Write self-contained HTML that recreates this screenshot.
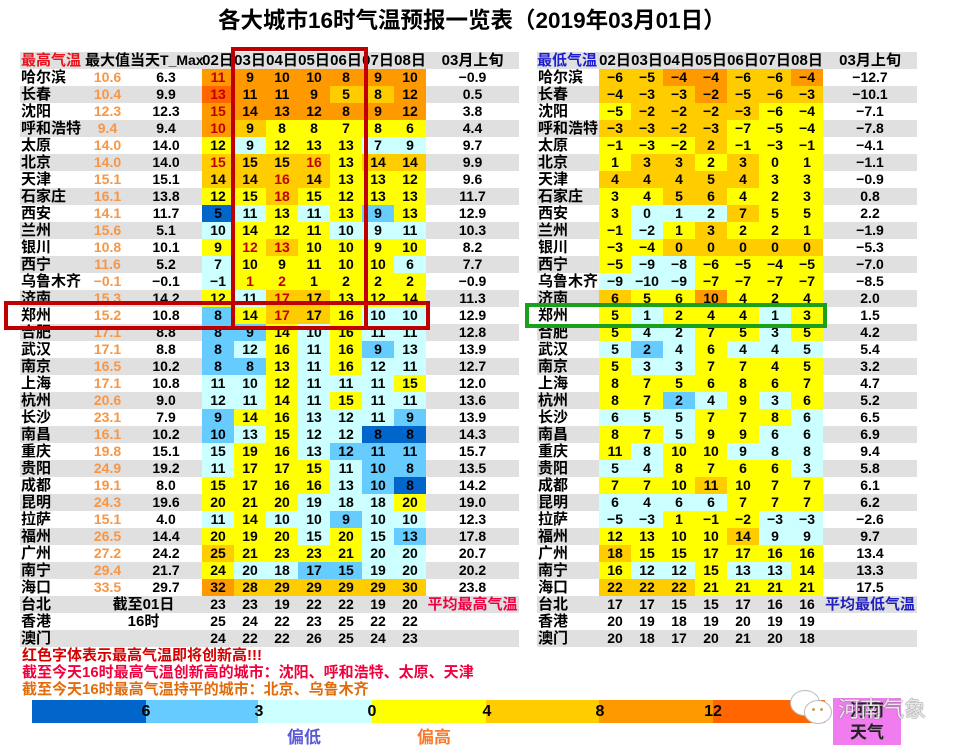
<!DOCTYPE html>
<html><head><meta charset="utf-8">
<style>
body{margin:0;width:964px;height:750px;background:#fff;position:relative;overflow:hidden;font-family:"Liberation Sans","Noto Sans CJK SC",sans-serif;font-weight:bold;color:#000}
table{position:absolute;border-collapse:collapse;table-layout:fixed;top:52px}
td{padding:0;height:17px;line-height:17px;text-align:center;white-space:nowrap;overflow:visible;font-size:14px;color:#000}
tr{height:17px}
tr:nth-child(odd){background:#e0e0e0}
td.n{text-align:left;font-size:15px;padding-left:1px}
td.h{font-size:15px}
td.m{color:#f79646}
.o{background:#ff9900}.d{background:#ff6600}.g{background:#ffcc00}.y{background:#ffff00}.c{background:#ccffff}.l{background:#66ccff}.b{background:#0066cc}
.r{color:#c00000}
.box{position:absolute;box-sizing:border-box}
.lab{position:absolute;top:702px;font-size:16px;line-height:20px;width:30px;margin-left:-15px;text-align:center;font-family:"Liberation Sans",sans-serif}
</style></head><body>
<div style="position:absolute;left:218px;top:7px;line-height:28px;font-size:22.5px;white-space:nowrap">各大城市16时气温预报一览表（2019年03月01日）</div>

<table style="left:20px;width:499px">
<colgroup><col style="width:65px"><col style="width:45px"><col style="width:72px"><col style="width:32px"><col style="width:32px"><col style="width:32px"><col style="width:32px"><col style="width:32px"><col style="width:32px"><col style="width:32px"><col style="width:93px"></colgroup>
<tr><td class="n" style="color:#e8141e">最高气温</td><td class="n" colspan="2" style="padding-left:0">最大值当天<span style="font-size:14px">T_Max</span></td><td class="h">02日</td><td class="h">03日</td><td class="h">04日</td><td class="h">05日</td><td class="h">06日</td><td class="h">07日</td><td class="h">08日</td><td class="h">03月上旬</td></tr>
<tr><td class="n">哈尔滨</td><td class="m">10.6</td><td>6.3</td><td class="o r">11</td><td class="o">9</td><td class="o">10</td><td class="o">10</td><td class="o">8</td><td class="o">9</td><td class="o">10</td><td>−0.9</td></tr>
<tr><td class="n">长春</td><td class="m">10.4</td><td>9.9</td><td class="d r">13</td><td class="o">11</td><td class="o">11</td><td class="o">9</td><td class="g">5</td><td class="g">8</td><td class="o">12</td><td>0.5</td></tr>
<tr><td class="n">沈阳</td><td class="m">12.3</td><td>12.3</td><td class="o r">15</td><td class="o">14</td><td class="o">13</td><td class="o">12</td><td class="o">8</td><td class="o">9</td><td class="o">12</td><td>3.8</td></tr>
<tr><td class="n">呼和浩特</td><td class="m">9.4</td><td>9.4</td><td class="o r">10</td><td class="g">9</td><td class="y">8</td><td class="y">8</td><td class="y">7</td><td class="y">8</td><td class="y">6</td><td>4.4</td></tr>
<tr><td class="n">太原</td><td class="m">14.0</td><td>14.0</td><td class="y">12</td><td class="c">9</td><td class="y">12</td><td class="y">13</td><td class="y">13</td><td class="c">7</td><td class="c">9</td><td>9.7</td></tr>
<tr><td class="n">北京</td><td class="m">14.0</td><td>14.0</td><td class="g r">15</td><td class="g">15</td><td class="g">15</td><td class="g r">16</td><td class="y">13</td><td class="g">14</td><td class="g">14</td><td>9.9</td></tr>
<tr><td class="n">天津</td><td class="m">15.1</td><td>15.1</td><td class="g">14</td><td class="g">14</td><td class="g r">16</td><td class="g">14</td><td class="y">13</td><td class="y">13</td><td class="y">12</td><td>9.6</td></tr>
<tr><td class="n">石家庄</td><td class="m">16.1</td><td>13.8</td><td class="y">12</td><td class="y">15</td><td class="g r">18</td><td class="y">15</td><td class="y">12</td><td class="y">13</td><td class="y">13</td><td>11.7</td></tr>
<tr><td class="n">西安</td><td class="m">14.1</td><td>11.7</td><td class="b">5</td><td class="c">11</td><td class="y">13</td><td class="c">11</td><td class="y">13</td><td class="l">9</td><td class="y">13</td><td>12.9</td></tr>
<tr><td class="n">兰州</td><td class="m">15.6</td><td>5.1</td><td class="c">10</td><td class="y">14</td><td class="y">12</td><td class="y">11</td><td class="c">10</td><td class="c">9</td><td class="c">11</td><td>10.3</td></tr>
<tr><td class="n">银川</td><td class="m">10.8</td><td>10.1</td><td class="y">9</td><td class="y r">12</td><td class="g r">13</td><td class="y">10</td><td class="y">10</td><td class="y">9</td><td class="y">10</td><td>8.2</td></tr>
<tr><td class="n">西宁</td><td class="m">11.6</td><td>5.2</td><td class="c">7</td><td class="y">10</td><td class="y">9</td><td class="y">11</td><td class="y">10</td><td class="y">10</td><td class="c">6</td><td>7.7</td></tr>
<tr><td class="n">乌鲁木齐</td><td class="m">−0.1</td><td>−0.1</td><td class="c">−1</td><td class="y r">1</td><td class="y r">2</td><td class="y">1</td><td class="y">2</td><td class="y">2</td><td class="y">2</td><td>−0.9</td></tr>
<tr><td class="n">济南</td><td class="m">15.3</td><td>14.2</td><td class="y">12</td><td class="c">11</td><td class="g r">17</td><td class="g">17</td><td class="y">13</td><td class="y">12</td><td class="y">14</td><td>11.3</td></tr>
<tr><td class="n">郑州</td><td class="m">15.2</td><td>10.8</td><td class="l">8</td><td class="y">14</td><td class="g r">17</td><td class="g">17</td><td class="y">16</td><td class="c">10</td><td class="c">10</td><td>12.9</td></tr>
<tr><td class="n">合肥</td><td class="m">17.1</td><td>8.8</td><td class="l">8</td><td class="l">9</td><td class="y">14</td><td class="c">10</td><td class="y">16</td><td class="c">11</td><td class="c">11</td><td>12.8</td></tr>
<tr><td class="n">武汉</td><td class="m">17.1</td><td>8.8</td><td class="l">8</td><td class="c">12</td><td class="y">16</td><td class="c">11</td><td class="y">16</td><td class="l">9</td><td class="c">13</td><td>13.9</td></tr>
<tr><td class="n">南京</td><td class="m">16.5</td><td>10.2</td><td class="l">8</td><td class="l">8</td><td class="y">13</td><td class="c">11</td><td class="y">16</td><td class="c">12</td><td class="c">11</td><td>12.7</td></tr>
<tr><td class="n">上海</td><td class="m">17.1</td><td>10.8</td><td class="c">11</td><td class="c">10</td><td class="y">12</td><td class="c">11</td><td class="c">11</td><td class="c">11</td><td class="y">15</td><td>12.0</td></tr>
<tr><td class="n">杭州</td><td class="m">20.6</td><td>9.0</td><td class="c">12</td><td class="c">11</td><td class="y">14</td><td class="c">11</td><td class="y">15</td><td class="c">11</td><td class="c">11</td><td>13.6</td></tr>
<tr><td class="n">长沙</td><td class="m">23.1</td><td>7.9</td><td class="l">9</td><td class="y">14</td><td class="y">16</td><td class="c">13</td><td class="c">12</td><td class="c">11</td><td class="l">9</td><td>13.9</td></tr>
<tr><td class="n">南昌</td><td class="m">16.1</td><td>10.2</td><td class="l">10</td><td class="c">13</td><td class="y">15</td><td class="c">12</td><td class="c">12</td><td class="b">8</td><td class="b">8</td><td>14.3</td></tr>
<tr><td class="n">重庆</td><td class="m">19.8</td><td>15.1</td><td class="c">15</td><td class="y">19</td><td class="y">16</td><td class="c">13</td><td class="l">12</td><td class="l">11</td><td class="l">11</td><td>15.7</td></tr>
<tr><td class="n">贵阳</td><td class="m">24.9</td><td>19.2</td><td class="c">11</td><td class="y">17</td><td class="y">17</td><td class="y">15</td><td class="c">11</td><td class="l">10</td><td class="l">8</td><td>13.5</td></tr>
<tr><td class="n">成都</td><td class="m">19.1</td><td>8.0</td><td class="y">15</td><td class="y">17</td><td class="y">16</td><td class="y">16</td><td class="c">13</td><td class="l">10</td><td class="b">8</td><td>14.2</td></tr>
<tr><td class="n">昆明</td><td class="m">24.3</td><td>19.6</td><td class="y">20</td><td class="y">21</td><td class="y">20</td><td class="c">19</td><td class="c">18</td><td class="c">18</td><td class="y">20</td><td>19.0</td></tr>
<tr><td class="n">拉萨</td><td class="m">15.1</td><td>4.0</td><td class="c">11</td><td class="y">14</td><td class="c">10</td><td class="c">10</td><td class="l">9</td><td class="c">10</td><td class="c">10</td><td>12.3</td></tr>
<tr><td class="n">福州</td><td class="m">26.5</td><td>14.4</td><td class="y">20</td><td class="y">19</td><td class="y">20</td><td class="c">15</td><td class="y">20</td><td class="c">15</td><td class="l">13</td><td>17.8</td></tr>
<tr><td class="n">广州</td><td class="m">27.2</td><td>24.2</td><td class="g">25</td><td class="y">21</td><td class="y">23</td><td class="y">23</td><td class="y">21</td><td class="c">20</td><td class="c">20</td><td>20.7</td></tr>
<tr><td class="n">南宁</td><td class="m">29.4</td><td>21.7</td><td class="y">24</td><td class="c">20</td><td class="c">18</td><td class="l">17</td><td class="l">15</td><td class="c">19</td><td class="c">20</td><td>20.2</td></tr>
<tr><td class="n">海口</td><td class="m">33.5</td><td>29.7</td><td class="o">32</td><td class="g">28</td><td class="g">29</td><td class="g">29</td><td class="g">29</td><td class="g">29</td><td class="g">30</td><td>23.8</td></tr>
<tr><td class="n">台北</td><td colspan="2" class="h">截至01日</td><td>23</td><td>23</td><td>19</td><td>22</td><td>22</td><td>19</td><td>20</td><td class="h" style="color:#f00040">平均最高气温</td></tr>
<tr><td class="n">香港</td><td colspan="2" class="h">16时</td><td>25</td><td>24</td><td>22</td><td>23</td><td>25</td><td>22</td><td>22</td><td></td></tr>
<tr><td class="n">澳门</td><td colspan="2"></td><td>24</td><td>22</td><td>22</td><td>26</td><td>25</td><td>24</td><td>23</td><td></td></tr>
</table>

<table style="left:537px;width:380px">
<colgroup><col style="width:62px"><col style="width:32px"><col style="width:32px"><col style="width:32px"><col style="width:32px"><col style="width:32px"><col style="width:32px"><col style="width:32px"><col style="width:94px"></colgroup>
<tr><td class="n" style="color:#1c1cd0;padding-left:0">最低气温</td><td class="h">02日</td><td class="h">03日</td><td class="h">04日</td><td class="h">05日</td><td class="h">06日</td><td class="h">07日</td><td class="h">08日</td><td class="h">03月上旬</td></tr>
<tr><td class="n">哈尔滨</td><td class="g">−6</td><td class="g">−5</td><td class="o">−4</td><td class="o">−4</td><td class="g">−6</td><td class="g">−6</td><td class="o">−4</td><td>−12.7</td></tr>
<tr><td class="n">长春</td><td class="g">−4</td><td class="g">−3</td><td class="g">−3</td><td class="o">−2</td><td class="g">−5</td><td class="g">−6</td><td class="g">−3</td><td>−10.1</td></tr>
<tr><td class="n">沈阳</td><td class="y">−5</td><td class="g">−2</td><td class="g">−2</td><td class="g">−2</td><td class="g">−3</td><td class="y">−6</td><td class="y">−4</td><td>−7.1</td></tr>
<tr><td class="n">呼和浩特</td><td class="g">−3</td><td class="g">−3</td><td class="g">−2</td><td class="g">−3</td><td class="y">−7</td><td class="y">−5</td><td class="y">−4</td><td>−7.8</td></tr>
<tr><td class="n">太原</td><td class="y">−1</td><td class="y">−3</td><td class="y">−2</td><td class="g">2</td><td class="y">−1</td><td class="y">−3</td><td class="y">−1</td><td>−4.1</td></tr>
<tr><td class="n">北京</td><td class="y">1</td><td class="g">3</td><td class="g">3</td><td class="y">2</td><td class="g">3</td><td class="y">0</td><td class="y">1</td><td>−1.1</td></tr>
<tr><td class="n">天津</td><td class="g">4</td><td class="g">4</td><td class="g">4</td><td class="g">5</td><td class="g">4</td><td class="y">3</td><td class="y">3</td><td>−0.9</td></tr>
<tr><td class="n">石家庄</td><td class="y">3</td><td class="y">4</td><td class="g">5</td><td class="g">6</td><td class="y">4</td><td class="y">2</td><td class="y">3</td><td>0.8</td></tr>
<tr><td class="n">西安</td><td class="y">3</td><td class="c">0</td><td class="c">1</td><td class="c">2</td><td class="g">7</td><td class="y">5</td><td class="y">5</td><td>2.2</td></tr>
<tr><td class="n">兰州</td><td class="y">−1</td><td class="c">−2</td><td class="y">1</td><td class="g">3</td><td class="y">2</td><td class="y">2</td><td class="y">1</td><td>−1.9</td></tr>
<tr><td class="n">银川</td><td class="y">−3</td><td class="y">−4</td><td class="g">0</td><td class="g">0</td><td class="g">0</td><td class="g">0</td><td class="g">0</td><td>−5.3</td></tr>
<tr><td class="n">西宁</td><td class="y">−5</td><td class="c">−9</td><td class="c">−8</td><td class="y">−6</td><td class="y">−5</td><td class="y">−4</td><td class="y">−5</td><td>−7.0</td></tr>
<tr><td class="n">乌鲁木齐</td><td class="c">−9</td><td class="c">−10</td><td class="c">−9</td><td class="y">−7</td><td class="y">−7</td><td class="y">−7</td><td class="y">−7</td><td>−8.5</td></tr>
<tr><td class="n">济南</td><td class="g">6</td><td class="y">5</td><td class="y">6</td><td class="o">10</td><td class="y">4</td><td class="y">2</td><td class="y">4</td><td>2.0</td></tr>
<tr><td class="n">郑州</td><td class="y">5</td><td class="c">1</td><td class="y">2</td><td class="y">4</td><td class="y">4</td><td class="c">1</td><td class="y">3</td><td>1.5</td></tr>
<tr><td class="n">合肥</td><td class="y">5</td><td class="c">4</td><td class="c">2</td><td class="y">7</td><td class="y">5</td><td class="c">3</td><td class="y">5</td><td>4.2</td></tr>
<tr><td class="n">武汉</td><td class="c">5</td><td class="l">2</td><td class="c">4</td><td class="y">6</td><td class="c">4</td><td class="c">4</td><td class="c">5</td><td>5.4</td></tr>
<tr><td class="n">南京</td><td class="y">5</td><td class="c">3</td><td class="c">3</td><td class="y">7</td><td class="y">7</td><td class="y">4</td><td class="y">5</td><td>3.2</td></tr>
<tr><td class="n">上海</td><td class="y">8</td><td class="y">7</td><td class="y">5</td><td class="y">6</td><td class="y">8</td><td class="y">6</td><td class="y">7</td><td>4.7</td></tr>
<tr><td class="n">杭州</td><td class="y">8</td><td class="y">7</td><td class="l">2</td><td class="c">4</td><td class="y">9</td><td class="c">3</td><td class="y">6</td><td>5.2</td></tr>
<tr><td class="n">长沙</td><td class="c">6</td><td class="c">5</td><td class="c">5</td><td class="y">7</td><td class="y">7</td><td class="y">8</td><td class="c">6</td><td>6.5</td></tr>
<tr><td class="n">南昌</td><td class="y">8</td><td class="y">7</td><td class="c">5</td><td class="y">9</td><td class="y">9</td><td class="c">6</td><td class="c">6</td><td>6.9</td></tr>
<tr><td class="n">重庆</td><td class="y">11</td><td class="c">8</td><td class="y">10</td><td class="y">10</td><td class="c">9</td><td class="c">8</td><td class="c">8</td><td>9.4</td></tr>
<tr><td class="n">贵阳</td><td class="c">5</td><td class="c">4</td><td class="y">8</td><td class="y">7</td><td class="y">6</td><td class="y">6</td><td class="c">3</td><td>5.8</td></tr>
<tr><td class="n">成都</td><td class="y">7</td><td class="y">7</td><td class="y">10</td><td class="g">11</td><td class="y">10</td><td class="y">7</td><td class="y">7</td><td>6.1</td></tr>
<tr><td class="n">昆明</td><td class="c">6</td><td class="c">4</td><td class="c">6</td><td class="c">6</td><td class="y">7</td><td class="y">7</td><td class="y">7</td><td>6.2</td></tr>
<tr><td class="n">拉萨</td><td class="c">−5</td><td class="c">−3</td><td class="y">1</td><td class="y">−1</td><td class="y">−2</td><td class="c">−3</td><td class="c">−3</td><td>−2.6</td></tr>
<tr><td class="n">福州</td><td class="y">12</td><td class="y">13</td><td class="y">10</td><td class="y">10</td><td class="g">14</td><td class="c">9</td><td class="c">9</td><td>9.7</td></tr>
<tr><td class="n">广州</td><td class="g">18</td><td class="y">15</td><td class="y">15</td><td class="y">17</td><td class="y">17</td><td class="y">16</td><td class="y">16</td><td>13.4</td></tr>
<tr><td class="n">南宁</td><td class="y">16</td><td class="c">12</td><td class="c">12</td><td class="y">15</td><td class="c">13</td><td class="c">13</td><td class="y">14</td><td>13.3</td></tr>
<tr><td class="n">海口</td><td class="g">22</td><td class="g">22</td><td class="g">22</td><td class="y">21</td><td class="y">21</td><td class="y">21</td><td class="y">21</td><td>17.5</td></tr>
<tr><td class="n">台北</td><td>17</td><td>17</td><td>15</td><td>15</td><td>17</td><td>16</td><td>16</td><td class="h" style="color:#2020c0">平均最低气温</td></tr>
<tr><td class="n">香港</td><td>20</td><td>19</td><td>18</td><td>19</td><td>20</td><td>19</td><td>19</td><td></td></tr>
<tr><td class="n">澳门</td><td>20</td><td>18</td><td>17</td><td>20</td><td>21</td><td>20</td><td>18</td><td></td></tr>
</table>

<!-- highlight boxes -->
<div class="box" style="left:231px;top:47px;width:137px;height:283px;border:4px solid #c00000"></div>
<div class="box" style="left:4px;top:301px;width:426px;height:29px;border:4px solid #c00000"></div>
<div class="box" style="left:525px;top:303px;width:302px;height:25px;border:4px solid #1aa01a"></div>

<!-- footer notes -->
<div style="position:absolute;left:22px;top:647px;font-size:15px;line-height:17px;color:#d40000;white-space:nowrap">红色字体表示最高气温即将创新高!!!</div>
<div style="position:absolute;left:22px;top:664px;font-size:15px;line-height:17px;color:#f0003c;white-space:nowrap">截至今天16时最高气温创新高的城市：沈阳、呼和浩特、太原、天津</div>
<div style="position:absolute;left:22px;top:681px;font-size:15px;line-height:17px;color:#e26b0a;white-space:nowrap">截至今天16时最高气温持平的城市：北京、乌鲁木齐</div>

<!-- legend bar -->
<div style="position:absolute;top:700px;height:23px;left:32px;width:114px;background:#0066cc"></div>
<div style="position:absolute;top:700px;height:23px;left:146px;width:112px;background:#66ccff"></div>
<div style="position:absolute;top:700px;height:23px;left:258px;width:114px;background:#ccffff"></div>
<div style="position:absolute;top:700px;height:23px;left:372px;width:114px;background:#ffff00"></div>
<div style="position:absolute;top:700px;height:23px;left:486px;width:113px;background:#ffcc00"></div>
<div style="position:absolute;top:700px;height:23px;left:599px;width:114px;background:#ff9900"></div>
<div style="position:absolute;top:700px;height:23px;left:713px;width:112px;background:#ff6600"></div>
<div class="lab" style="left:146px">6</div>
<div class="lab" style="left:259px">3</div>
<div class="lab" style="left:372px">0</div>
<div class="lab" style="left:487px">4</div>
<div class="lab" style="left:600px">8</div>
<div class="lab" style="left:713px">12</div>
<div style="position:absolute;left:287px;top:728px;font-size:17px;line-height:20px;color:#5b5bd6">偏低</div>
<div style="position:absolute;left:417px;top:728px;font-size:17px;line-height:20px;color:#f47b30">偏高</div>

<!-- pink badge -->
<div style="position:absolute;left:833px;top:698px;width:68px;height:47px;background:#f07cf0;text-align:center;font-size:17px;line-height:22px;color:#222">
<div style="margin-top:2px">河南</div><div>天气</div></div>

<!-- watermark -->
<div style="position:absolute;left:790px;top:690px;width:28px;height:24px;border-radius:50%;background:#fff;border:1.5px solid #bbb"></div>
<div style="position:absolute;left:804px;top:700px;width:26px;height:22px;border-radius:50%;background:#fff;border:1.5px solid #bbb"></div>
<div style="position:absolute;left:812px;top:708px;width:3px;height:3px;border-radius:50%;background:#c8a060"></div>
<div style="position:absolute;left:820px;top:708px;width:3px;height:3px;border-radius:50%;background:#c8a060"></div>
<div style="position:absolute;left:838px;top:697px;font-size:22px;line-height:26px;font-weight:normal;color:rgba(255,255,255,0.85);text-shadow:0 0 1px #666,0 0 1px #666;white-space:nowrap">河南气象</div>
</body></html>
